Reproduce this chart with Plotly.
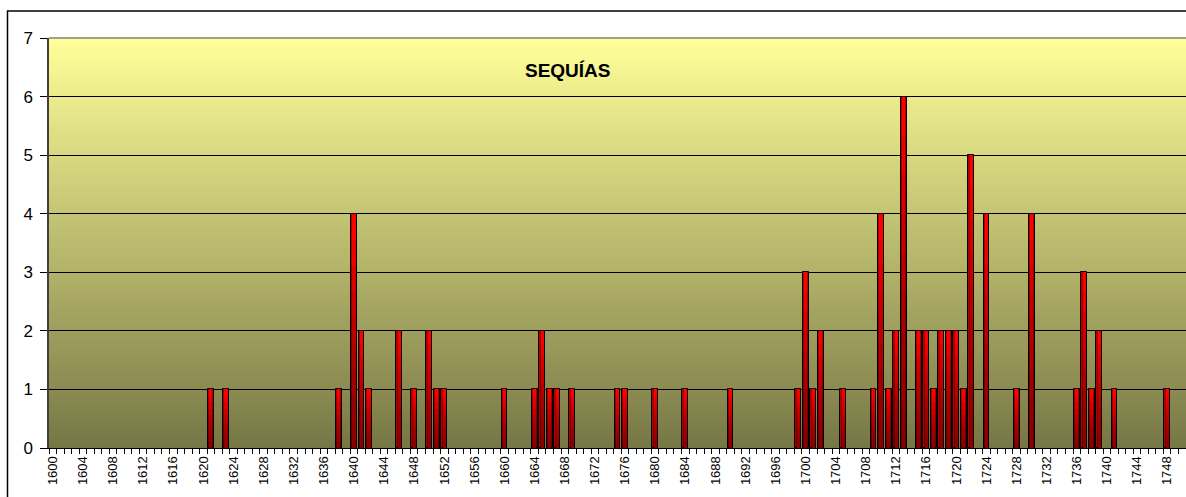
import plotly.graph_objects as go

# ---- data ----
years = [1621, 1623, 1638, 1640, 1641, 1642, 1646, 1648, 1650, 1651, 1652,
         1660, 1664, 1665, 1666, 1667, 1669, 1675, 1676, 1680, 1684, 1690,
         1699, 1700, 1701, 1702, 1705, 1709, 1710, 1711, 1712, 1713, 1715,
         1716, 1717, 1718, 1719, 1720, 1721, 1722, 1724, 1728, 1730, 1736,
         1737, 1738, 1739, 1741, 1748]
sequias = [1, 1, 1, 4, 2, 1, 2, 1, 2, 1, 1,
           1, 1, 2, 1, 1, 1, 1, 1, 1, 1, 1,
           1, 3, 1, 2, 1, 1, 4, 1, 2, 6, 2,
           2, 1, 2, 2, 2, 1, 5, 4, 1, 4, 1,
           3, 1, 2, 1, 1]
tick_years = list(range(1600, 1750, 4))
tick_labels = [str(y) for y in tick_years]
y_ticks = list(range(0, 8))
title_text = "SEQUÍAS"

W, H = 1186, 497
L, R, T, B = 49, 0, 38, 49
FONT = "Arial, Liberation Sans, sans-serif"

fig = go.Figure()

# main bar body (dark red edges with black outline)
fig.add_trace(go.Bar(x=years, y=sequias, width=0.78,
                     marker=dict(color="#B00000", line=dict(color="#000000", width=1)),
                     hoverinfo="skip", showlegend=False))
# bright centre highlight
fig.add_trace(go.Bar(x=years, y=sequias, width=0.42,
                     marker=dict(color="#FF0000", line=dict(width=0)),
                     hoverinfo="skip", showlegend=False))
# vertical darkening toward the bottom of each bar
N = 8
for k in range(1, N + 1):
    fig.add_trace(go.Bar(x=years, y=[v * k / (N + 1) for v in sequias], width=0.70,
                         marker=dict(color="rgba(40,0,0,0.085)", line=dict(width=0)),
                         hoverinfo="skip", showlegend=False))

# background gradient in plot area
shapes = []
top = (255, 255, 153)
bot = (119, 119, 70)
nb = 140
for i in range(nb):
    t = (i + 0.5) / nb
    c = tuple(round(bot[j] + (top[j] - bot[j]) * t) for j in range(3))
    shapes.append(dict(type="rect", xref="paper", yref="paper",
                       x0=0, x1=1, y0=i / nb, y1=(i + 1) / nb + 0.002,
                       fillcolor="rgb(%d,%d,%d)" % c, line=dict(width=0), layer="below"))
# plot area top border (gray)
shapes.append(dict(type="line", xref="paper", yref="paper", x0=0, x1=1, y0=1, y1=1,
                   line=dict(color="#808080", width=1.5), layer="above"))
# outer chart border
pw = W - L - R
ph = H - T - B
def px_x(p):
    return (p - L) / pw
def px_y(p):
    return (H - B - p) / ph
shapes.append(dict(type="rect", xref="paper", yref="paper",
                   x0=px_x(7.5), x1=px_x(W + 10), y0=px_y(H + 10), y1=px_y(11),
                   line=dict(color="#000000", width=1.5), fillcolor="rgba(0,0,0,0)", layer="above"))

fig.update_layout(
    width=W, height=H,
    margin=dict(l=L, r=R, t=T, b=B, autoexpand=False),
    paper_bgcolor="white", plot_bgcolor="rgba(0,0,0,0)",
    barmode="overlay", bargap=0,
    shapes=shapes,
    showlegend=False,
    font=dict(family=FONT, color="black"),
    annotations=[dict(text="<b>%s</b>" % title_text, xref="paper", yref="paper",
                      x=px_x(568), y=px_y(71), xanchor="center", yanchor="middle",
                      showarrow=False, font=dict(family=FONT, size=19, color="black"))],
)
fig.update_xaxes(range=[1599.5, 1750.5], tickmode="array", tickvals=tick_years,
                 ticktext=tick_labels, tickangle=-90, tickfont=dict(size=13, family=FONT),
                 ticks="", showgrid=False, zeroline=False, automargin=False,
                 showline=True, linecolor="#000000", linewidth=1, ticklabelstandoff=2,
                 minor=dict(tickmode="linear", tick0=1599.5, dtick=1, ticks="outside",
                            ticklen=5, tickcolor="#000000", tickwidth=1, showgrid=False))
fig.update_yaxes(range=[0, 7], tickvals=y_ticks, tickfont=dict(size=17, family=FONT),
                 ticks="outside", ticklen=7, tickcolor="#000000", automargin=False,
                 ticklabelstandoff=4,
                 showgrid=True, gridcolor="#000000", gridwidth=1,
                 zeroline=False, showline=True, linecolor="#404040", linewidth=1.5)

fig.write_html("out.html", config={"displayModeBar": False},
               post_script="document.body.style.margin='0';document.body.style.overflow='hidden';")
